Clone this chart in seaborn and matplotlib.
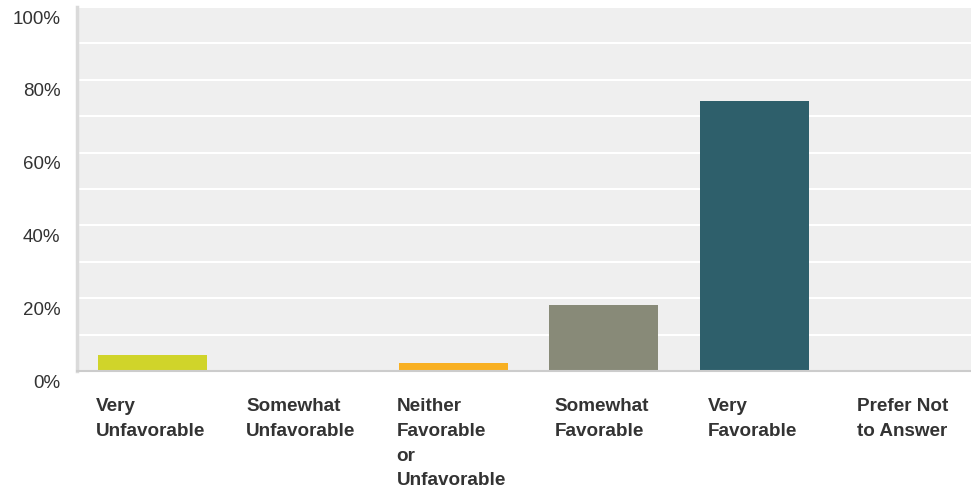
import matplotlib
matplotlib.use("Agg")
import matplotlib.pyplot as plt
import matplotlib.transforms as mtransforms
import seaborn as sns
import pandas as pd

categories = ["Very\nUnfavorable", "Somewhat\nUnfavorable", "Neither\nFavorable\nor\nUnfavorable",
              "Somewhat\nFavorable", "Very\nFavorable", "Prefer Not\nto Answer"]
values = [4.4, 0.0, 2.2, 18.1, 74.3, 0.0]
colors = ["#D0D42A", "#D0D42A", "#F8B022", "#888A78", "#2E5F6B", "#2E5F6B"]
y_ticks = [0, 20, 40, 60, 80, 100]
y_tick_labels = ["0%", "20%", "40%", "60%", "80%", "100%"]

sns.set_theme(style="white")
plt.rcParams["font.family"] = ["Liberation Sans", "DejaVu Sans"]

df = pd.DataFrame({"cat": categories, "val": values})

fig = plt.figure(figsize=(9.71, 4.91), dpi=100)
ax = fig.add_axes([77 / 971, 1 - 371 / 491, 903 / 971, 364 / 491])
ax.set_facecolor("#EFEFEF")

sns.barplot(data=df, x="cat", y="val", hue="cat", palette=colors, legend=False,
            width=0.725, ax=ax, saturation=1, linewidth=0, edgecolor="none")

ax.set_ylim(0, 100)
ax.set_xlim(-0.5, 5.5)
ax.set_yticks(y_ticks)
ax.set_yticklabels(y_tick_labels, fontsize=13.5, color="#333333")
ax.set_yticks(range(10, 100, 20), minor=True)
ax.grid(axis="y", which="both", color="white", linewidth=1.5)
ax.set_axisbelow(True)
ax.tick_params(axis="y", which="both", length=0, pad=12)
ax.tick_params(axis="x", length=0, pad=19.5)
ax.set_xlabel("")
ax.set_ylabel("")

for lbl in ax.get_xticklabels():
    lbl.set_horizontalalignment("center")
    lbl.set_multialignment("left")
    lbl.set_fontweight("bold")
    lbl.set_fontsize(13.6)
    lbl.set_color("#333333")
    lbl.set_linespacing(1.6)
    lbl.set_verticalalignment("top")

offx = mtransforms.ScaledTranslation(-2 / 100, 0, fig.dpi_scale_trans)
for lbl in ax.get_xticklabels():
    lbl.set_transform(lbl.get_transform() + offx)
offy = mtransforms.ScaledTranslation(0, -10 / 100, fig.dpi_scale_trans)
for lbl in ax.get_yticklabels():
    lbl.set_transform(lbl.get_transform() + offy)

for s in ["top", "right"]:
    ax.spines[s].set_visible(False)
ax.spines["left"].set_color("#DADADA")
ax.spines["left"].set_linewidth(2.5)
ax.spines["bottom"].set_color("#CCCCCC")
ax.spines["bottom"].set_linewidth(1.5)

fig.savefig("out.png", dpi=100)
